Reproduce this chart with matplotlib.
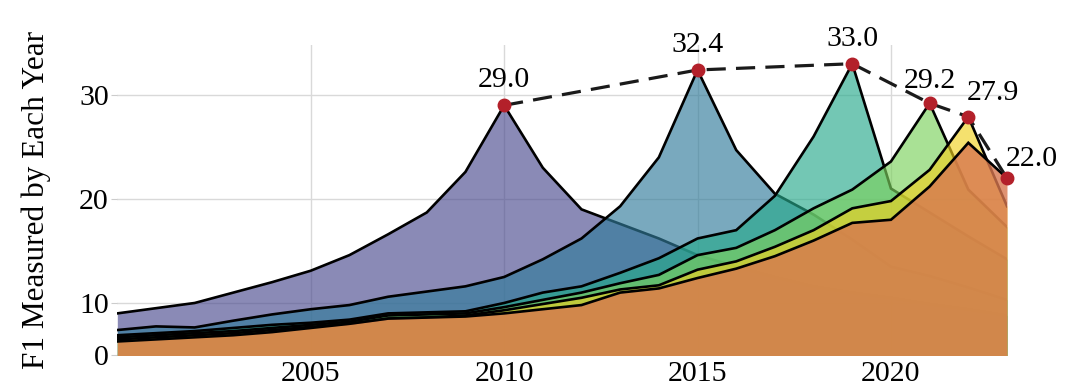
import matplotlib
matplotlib.use("Agg")
import matplotlib.pyplot as plt

years = list(range(2000, 2024))

m2010 = [9.0, 9.5, 10.0, 11.0, 12.0, 13.1, 14.6, 16.6, 18.7, 22.6, 29.0, 23.0,
         19.0, 17.6, 16.2, 14.6, 13.5, 12.5, 11.6, 11.0, 10.5, 9.9, 9.4, 8.8]
m2015 = [7.4, 7.75, 7.65, 8.3, 8.9, 9.4, 9.8, 10.6, 11.1, 11.6, 12.5, 14.2,
         16.2, 19.3, 24.0, 32.4, 24.7, 20.5, 18.5, 16.1, 13.5, 12.6, 11.5, 10.3]
m2019 = [6.9, 7.1, 7.3, 7.6, 7.9, 8.1, 8.4, 9.0, 9.1, 9.2, 10.0, 11.0,
         11.6, 12.9, 14.3, 16.2, 17.0, 20.3, 26.0, 33.0, 21.0, 18.7, 16.4, 14.2]
m2021 = [6.7, 6.9, 7.1, 7.3, 7.6, 7.9, 8.2, 8.8, 8.9, 9.0, 9.6, 10.3,
         11.0, 11.9, 12.7, 14.6, 15.3, 17.0, 19.1, 20.9, 23.6, 29.2, 20.9, 17.3]
m2022 = [6.5, 6.7, 6.9, 7.1, 7.4, 7.7, 8.0, 8.5, 8.6, 8.8, 9.3, 9.9,
         10.5, 11.3, 11.7, 13.2, 14.0, 15.4, 17.0, 19.1, 19.8, 22.8, 27.9, 19.3]
m2023 = [6.3, 6.5, 6.7, 6.9, 7.2, 7.6, 8.0, 8.5, 8.6, 8.7, 9.0, 9.4,
         9.8, 11.0, 11.4, 12.4, 13.3, 14.5, 16.0, 17.7, 18.0, 21.2, 25.4, 22.0]

series = [m2010, m2015, m2019, m2021, m2022, m2023]
train_years = [2010, 2015, 2019, 2021, 2022, 2023]
fill_colors = ["#4b4b8f", "#327c9b", "#28aa8c", "#7cd15d", "#f0d120", "#d7774f"]
fill_alphas = [0.65, 0.65, 0.65, 0.65, 0.65, 0.8]

peak_vals = [s[years.index(y)] for s, y in zip(series, train_years)]
peak_labels = ["29.0", "32.4", "33.0", "29.2", "27.9", "22.0"]
label_offsets = [(0, 25), (0, 25), (0, 25), (0, 22), (25, 24), (25, 19)]

yticks = [5.0, 10, 20, 30]
ytick_labels = ["0", "10", "20", "30"]
xticks = [2005, 2010, 2015, 2020]

plt.rcParams["font.family"] = ["Liberation Serif", "DejaVu Serif"]

fig = plt.figure(figsize=(10.76, 3.88), dpi=100)
ax = fig.add_axes([117.3 / 1076, 1 - 355 / 388, (1007 - 117.3) / 1076, (355 - 45) / 388])

for i, (vals, col, a) in enumerate(zip(series, fill_colors, fill_alphas)):
    ax.fill_between(years, 0, vals, color=col, alpha=a, linewidth=0, zorder=2 + 2 * i)
    ax.plot(years, vals, color="black", lw=1.9, zorder=3 + 2 * i, solid_joinstyle="miter")

ax.plot(train_years, peak_vals, color="#1a1a1a", lw=2.3, linestyle=(0, (6, 3.2)), zorder=20)
ax.plot(train_years, peak_vals, "o", color="#b3202a", markersize=9, zorder=21, clip_on=False)

for x, y, lab, off in zip(train_years, peak_vals, peak_labels, label_offsets):
    ax.annotate(lab, (x, y), xytext=off, textcoords="offset pixels",
                ha="center", va="center", fontsize=21.5, zorder=22, annotation_clip=False)

ax.set_xlim(2000, 2023)
ax.set_ylim(5.0, 34.8)
ax.set_xticks(xticks)
ax.set_xticklabels([str(x) for x in xticks])
ax.set_yticks(yticks)
ax.set_yticklabels(ytick_labels)
ax.grid(True, color="#d9d9d9", lw=1.0, zorder=0)
ax.set_axisbelow(True)
for sp in ax.spines.values():
    sp.set_visible(False)
ax.tick_params(axis="x", length=0, pad=4, labelsize=21.5)
ax.tick_params(axis="y", length=4, color="#cccccc", pad=2, labelsize=21.5)
ax.set_ylabel("F1 Measured by Each Year", fontsize=22.5, labelpad=20)

fig.savefig("out.png", dpi=100)
